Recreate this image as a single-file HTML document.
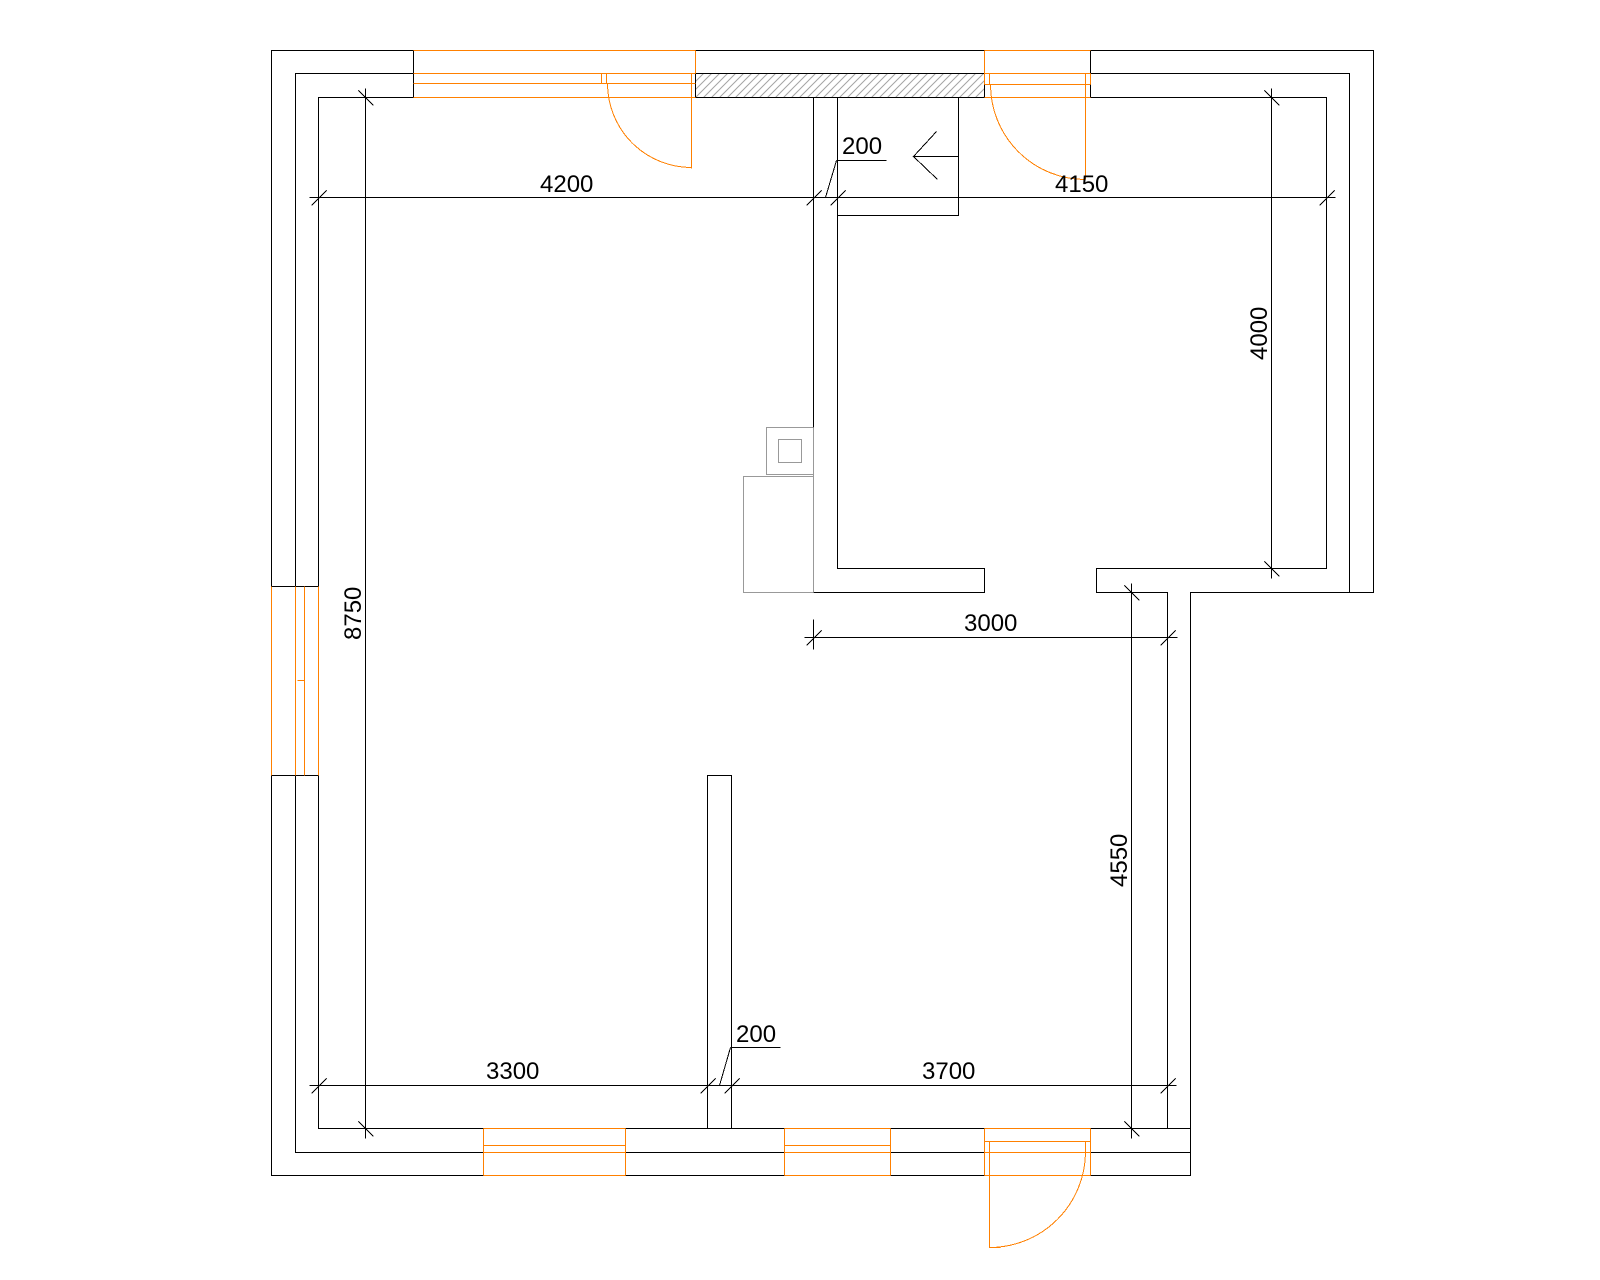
<!DOCTYPE html>
<html>
<head>
<meta charset="utf-8">
<style>
html,body{margin:0;padding:0;background:#fff;}
svg{display:block;}
text{font-family:"Liberation Sans",sans-serif;font-size:24px;fill:#000;}
</style>
</head>
<body>
<svg width="1600" height="1280" viewBox="0 0 1600 1280" xmlns="http://www.w3.org/2000/svg">
<defs>
<pattern id="h" width="8" height="8" patternUnits="userSpaceOnUse">
<path d="M-2 2L2 -2M0 8L8 0M6 10L10 6" stroke="#a4a4a4" stroke-width="1" fill="none"/>
</pattern>
</defs>
<g transform="translate(.5 .5)" fill="none" shape-rendering="crispEdges" stroke-width="1">
<rect x="695" y="73" width="289" height="24" fill="url(#h)" stroke="none"/>
<!-- Walls -->
<g stroke="#000">
<path d="M271 586V50H413V97M295 586V73H413M318 586V97H413"/>
<path d="M271 775V1175H483M295 775V1152H483M318 775V1128H483"/>
<path d="M271 586H318M271 775H318"/>
<path d="M695 50H984M695 73H984M695 97H984M695 73V97M984 73V97"/>
<path d="M1090 97V50H1373V592H1190V1175H1090M1090 73H1349V592M1090 97H1326V568H1096V592H1167V1128M1090 1128H1190M1090 1152H1190"/>
<path d="M813 97V427M813 474V476M837 97V568H984V592H813"/>
<path d="M837 215H958V97"/>
<path d="M707 1128V775H731V1128"/>
<path d="M625 1128H784M625 1152H784M625 1175H784M890 1128H984M890 1152H984M890 1175H984"/>
<path d="M958 156H913L936 131M913 156L937 179"/>
</g>
<!-- Appliances -->
<g stroke="#999">
<path d="M813 427V592"/>
<path d="M813 427H766V474H813"/>
<rect x="778" y="439" width="23" height="23"/>
<path d="M813 476H743V592H813"/>
</g>
<!-- Dimensions -->
<g stroke="#000">
<path d="M309 197H1335"/>
<path d="M365 88V1138M1271 88V578M1131 583V1138"/>
<path d="M804 637H1177M813 619V649"/>
<path d="M309 1085H1176"/>
<path d="M836 160H886M836 160L825 197"/>
<path d="M730 1047H780M730 1047L719 1085"/>
<!-- slash ticks -->
<path d="M311 205L326 190M806 205L821 190M830 205L845 190M1319 205L1334 190"/>
<path d="M806 645L821 630M1160 645L1175 630"/>
<path d="M311 1093L326 1078M700 1093L715 1078M724 1093L739 1078M1160 1093L1175 1078"/>
<!-- back ticks -->
<path d="M358 90L373 105M1264 90L1279 105M1264 561L1279 576M1124 585L1139 600M358 1121L373 1136M1124 1121L1139 1136"/>
</g>
<!-- Openings -->
<g stroke="#ff8000">
<path d="M413 50H695M413 73H695M413 83H695M413 97H695M695 50V73"/>
<path d="M601 73V83M606 73V83M691 73V168"/>
<path d="M607 83A84 84 0 0 0 691 167"/>
<path d="M984 50H1090M984 73H1090M984 84H1090M984 97H1090M984 50V84M1090 73V84"/>
<path d="M989 73V84M1085 73V179"/>
<path d="M990 84A95 95 0 0 0 1085 179"/>
<path d="M271 586V775M295 586V775M304 586V775M318 586V775M297 680H304"/>
<path d="M483 1128H625M483 1145H625M483 1152H625M483 1175H625M483 1128V1175M625 1128V1175"/>
<path d="M784 1128H890M784 1145H890M784 1152H890M784 1175H890M784 1128V1175M890 1128V1175"/>
<path d="M984 1128H1090M984 1141H1090M984 1152H1090M984 1175H1090M984 1128V1175M1090 1128V1175"/>
<path d="M989 1141V1247H1000M1085 1141V1152"/>
<path d="M1085 1152A96 96 0 0 1 989 1247"/>
</g>
</g>
<!-- Labels -->
<text x="540" y="192">4200</text>
<text x="1055" y="192">4150</text>
<text x="842" y="154">200</text>
<text x="964" y="631">3000</text>
<text x="486" y="1079">3300</text>
<text x="922" y="1079">3700</text>
<text x="736" y="1042">200</text>
<text transform="translate(361 640) rotate(-90)">8750</text>
<text transform="translate(1267 360) rotate(-90)">4000</text>
<text transform="translate(1127 887) rotate(-90)">4550</text>
</svg>
</body>
</html>
